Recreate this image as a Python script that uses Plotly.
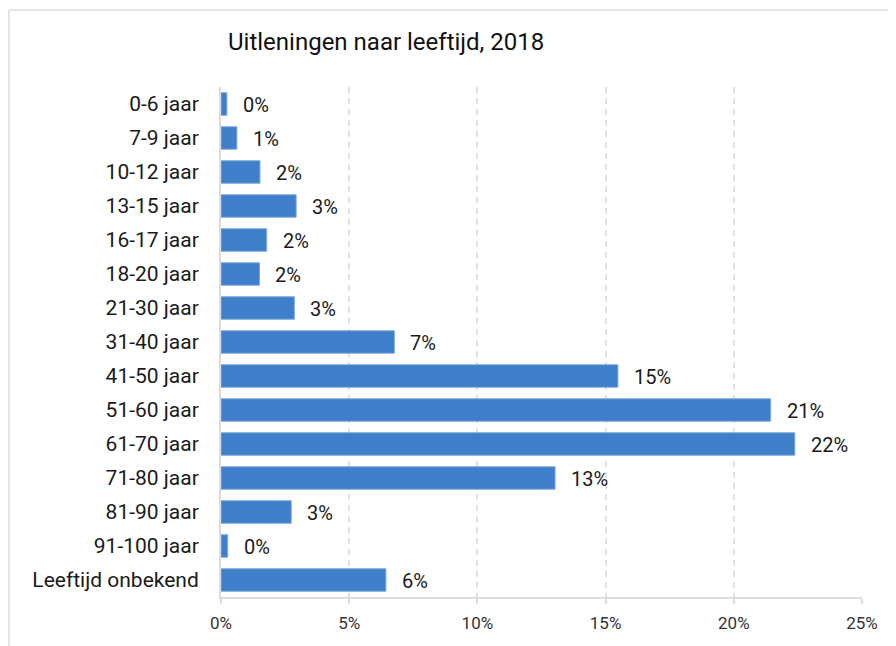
import plotly.graph_objects as go

categories = ["0-6 jaar", "7-9 jaar", "10-12 jaar", "13-15 jaar", "16-17 jaar", "18-20 jaar",
              "21-30 jaar", "31-40 jaar", "41-50 jaar", "51-60 jaar", "61-70 jaar", "71-80 jaar",
              "81-90 jaar", "91-100 jaar", "Leeftijd onbekend"]
values = [0.23, 0.62, 1.52, 2.93, 1.78, 1.5, 2.86, 6.76, 15.48, 21.44, 22.38, 13.03, 2.74, 0.26, 6.43]
tick_vals = [0, 5, 10, 15, 20, 25]
tick_text = ["0%", "5%", "10%", "15%", "20%", "25%"]
title = "Uitleningen naar leeftijd, 2018"

FONT = "Roboto, 'Noto Sans', sans-serif"

# page is rendered with an 8px body margin
OFF = 8
W, H = 896 - OFF, 646 - OFF
L, R, T, B = 221 - OFF, 34, 87 - OFF, 49
pw, ph = W - L - R, H - T - B

def px_x(p):  # page pixel -> paper
    return (p - OFF - L) / pw

def px_y(p):
    return (H - B - (p - OFF)) / ph

fig = go.Figure()
fig.add_trace(go.Bar(
    y=categories, x=values, orientation="h",
    marker=dict(color="#3f7ec8", line=dict(color="#7ea9df", width=1)),
    hoverinfo="skip",
))

for c, v in zip(categories, values):
    fig.add_annotation(x=v, y=c, xref="x", yref="y", text=f"{round(v)}%",
                       showarrow=False, xanchor="left", xshift=14, yshift=-1,
                       font=dict(family=FONT, size=20, color="#1a1a1a"))

fig.update_layout(
    width=W, height=H,
    margin=dict(l=L, r=R, t=T, b=B, pad=0),
    paper_bgcolor="white", plot_bgcolor="white",
    bargap=0.34,
    showlegend=False,
    font=dict(family=FONT, color="#1a1a1a"),
    title=dict(text=title, x=(228 - OFF) / W, xanchor="left", y=1 - (42 - OFF) / H, yanchor="middle",
               font=dict(family=FONT, size=24, color="#111111")),
    xaxis=dict(range=[0, 25], tickvals=tick_vals, ticktext=tick_text,
               showgrid=True, gridcolor="#e0e0e0", gridwidth=2, griddash="6px,5px",
               zeroline=False, showline=True, linecolor="#dcdcdc", linewidth=2,
               ticks="outside", ticklen=5, tickcolor="#dcdcdc", tickwidth=2,
               ticklabelstandoff=5,
               tickfont=dict(family=FONT, size=17, color="#333333")),
    yaxis=dict(categoryorder="array", categoryarray=categories, autorange="reversed",
               showgrid=False, zeroline=False, showline=True, linecolor="#dcdcdc", linewidth=2,
               ticks="", ticklabelstandoff=16,
               tickfont=dict(family=FONT, size=21, color="#1a1a1a")),
    shapes=[
        dict(type="line", xref="paper", yref="paper", x0=px_x(9), x1=px_x(920), y0=px_y(10), y1=px_y(10),
             line=dict(color="#dddddd", width=1.5)),
        dict(type="line", xref="paper", yref="paper", x0=px_x(9), x1=px_x(9), y0=px_y(10), y1=px_y(670),
             line=dict(color="#dddddd", width=1.5)),
    ],
)

fig.write_html("out.html")
